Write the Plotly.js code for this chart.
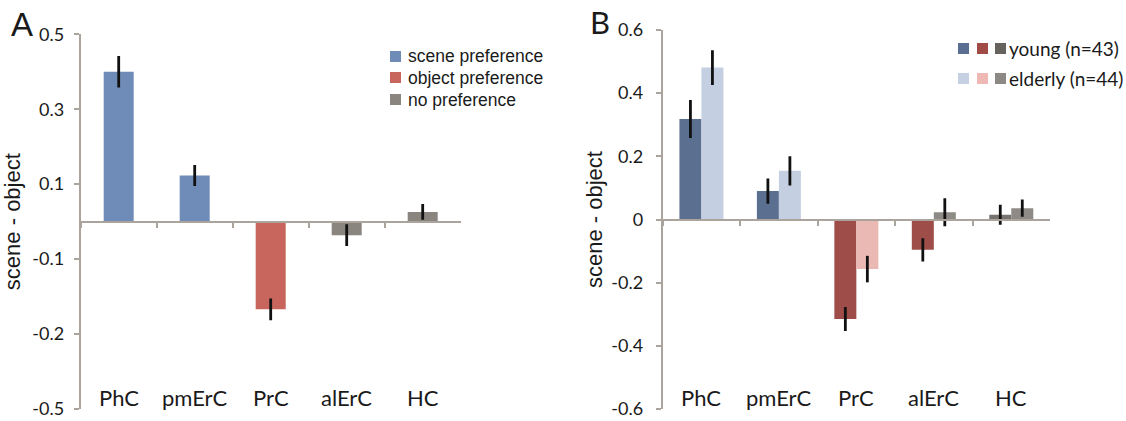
<!DOCTYPE html>
<html>
<head>
<meta charset="utf-8">
<script src="https://cdn.plot.ly/plotly-3.0.1.min.js"></script>
<style>html,body{margin:0;padding:0;background:#fff;} #chart{width:1126px;height:421px;}</style>
</head>
<body>
<div id="chart"></div>
<script>
// ---------- data ----------
const categories = ['PhC', 'pmErC', 'PrC', 'alErC', 'HC'];

// Panel A
const aValues = [0.400, 0.123, -0.234, -0.036, 0.026];
const aErrors = [0.042, 0.028, 0.029, 0.029, 0.021];
const aPreference = ['scene', 'scene', 'object', 'none', 'none'];
const aTickVals = [0.5, 0.3, 0.1, -0.1, -0.3, -0.5];
const aTickText = ['0.5', '0.3', '0.1', '-0.1', '-0.2', '-0.5'];
const aLegendLabels = ['scene preference', 'object preference', 'no preference'];

// Panel B
const youngValues = [0.318, 0.090, -0.315, -0.096, 0.015];
const youngErrors = [0.060, 0.040, 0.038, 0.037, 0.032];
const elderlyValues = [0.481, 0.154, -0.157, 0.023, 0.036];
const elderlyErrors = [0.055, 0.046, 0.042, 0.044, 0.027];
const bTickVals = [0.6, 0.4, 0.2, 0, -0.2, -0.4, -0.6];
const bTickText = ['0.6', '0.4', '0.2', '0', '-0.2', '-0.4', '-0.6'];
const bLegendLabels = ['young (n=43)', 'elderly (n=44)'];

// ---------- styles ----------
const W = 1126, H = 421;
const px = x => x / W;
const py = y => 1 - y / H;

const aColorMap = {scene: '#6F8CB9', object: '#C8655C', none: '#8B8580'};
const youngColors = ['#5B6F91', '#5B6F91', '#9E4D48', '#9E4D48', '#78736E'];
const elderlyColors = ['#C4CFE1', '#C4CFE1', '#EBB9B4', '#8E8A85', '#8E8A85'];
const youngLegendColors = ['#5A6E91', '#A04B46', '#66625E'];
const elderlyLegendColors = ['#C5D1E3', '#EEB9B4', '#8C8884'];

const axisColor = '#ABA49D';
const textColor = '#1A1A1A';
const tickFont = {family: 'Lato, sans-serif', size: 18, color: textColor};
const catFont = {family: 'Lato, sans-serif', size: 22, color: textColor};
const titleFont = {family: 'Liberation Sans, Arial, sans-serif', size: 22, color: textColor};

const aDomX = [px(80.7), px(460.7)], aDomY = [py(409), py(34.3)];
const bDomX = [px(662.7), px(1050)], bDomY = [py(409), py(30)];

const errStyle = {type: 'data', visible: true, color: '#111', thickness: 2.8, width: 0};

const traces = [
  {
    type: 'bar', name: 'panel A', x: categories, y: aValues,
    xaxis: 'x', yaxis: 'y',
    width: 0.395, offset: -0.1975,
    marker: {color: aPreference.map(p => aColorMap[p]), line: {width: 0}},
    error_y: Object.assign({array: aErrors}, errStyle),
    showlegend: false, hoverinfo: 'skip'
  },
  {
    type: 'bar', name: 'young', x: categories, y: youngValues,
    xaxis: 'x2', yaxis: 'y2',
    width: 0.284, offset: -0.284,
    marker: {color: youngColors, line: {width: 0}},
    error_y: Object.assign({array: youngErrors}, errStyle),
    showlegend: false, hoverinfo: 'skip'
  },
  {
    type: 'bar', name: 'elderly', x: categories, y: elderlyValues,
    xaxis: 'x2', yaxis: 'y2',
    width: 0.284, offset: 0,
    marker: {color: elderlyColors, line: {width: 0}},
    error_y: Object.assign({array: elderlyErrors}, errStyle),
    showlegend: false, hoverinfo: 'skip'
  }
];

function zeroAxis(dx, dy) {
  return {
    domain: dx, type: 'category', categoryarray: categories, categoryorder: 'array',
    range: [-0.5, 4.5], anchor: 'free', position: (dy[0] + dy[1]) / 2,
    showline: true, linecolor: axisColor, linewidth: 2,
    ticks: 'outside', tickson: 'boundaries', ticklen: 5, tickwidth: 2, tickcolor: axisColor,
    showticklabels: false, showgrid: false, zeroline: false, fixedrange: true
  };
}
function valueAxis(anchor, dy, range, vals, text, standoff, titleStandoff) {
  return {
    domain: dy, anchor: anchor, range: range,
    tickmode: 'array', tickvals: vals, ticktext: text,
    ticks: 'outside', ticklen: 5, tickwidth: 2, tickcolor: axisColor,
    showline: true, linecolor: axisColor, linewidth: 2,
    showgrid: false, zeroline: false, tickfont: tickFont,
    ticklabelstandoff: standoff,
    title: {text: 'scene - object', font: titleFont, standoff: titleStandoff},
    fixedrange: true
  };
}

const annotations = [];
function addSquare(x, y, color) {
  annotations.push({
    xref: 'paper', yref: 'paper', x: px(x), y: py(y), xanchor: 'left', yanchor: 'middle',
    text: '\u00a0', width: 11, height: 11, bgcolor: color, borderpad: 0, borderwidth: 0,
    showarrow: false, font: {size: 8}
  });
}
function addText(x, y, text, font) {
  annotations.push({
    xref: 'paper', yref: 'paper', x: px(x), y: py(y), xanchor: 'left', yanchor: 'middle',
    text: text, showarrow: false, font: font, borderpad: 0
  });
}

// Category labels placed through each panel's x scale
['x', 'x2'].forEach(ax => {
  categories.forEach(c => {
    annotations.push({
      xref: ax, yref: 'paper', x: c, y: py(397), xanchor: 'center', yanchor: 'middle',
      text: c, showarrow: false, font: catFont, borderpad: 0
    });
  });
});

// Panel letters
addText(10, 25, 'A', {family: 'Liberation Sans, Arial, sans-serif', size: 33, color: textColor});
addText(589, 22, 'B', {family: 'Lato, sans-serif', size: 31, color: textColor});

// Legend A
const aLegendY = [56.2, 77.9, 99.6];
const aLegendColors = [aColorMap.scene, aColorMap.object, aColorMap.none];
aLegendLabels.forEach((lab, i) => {
  addSquare(390, aLegendY[i], aLegendColors[i]);
  addText(407, aLegendY[i], lab, {family: 'Liberation Sans, Arial, sans-serif', size: 17.5, color: textColor});
});

// Legend B
const bLegendY = [48.7, 78.3];
const bSquareX = [958.3, 976.7, 995];
[youngLegendColors, elderlyLegendColors].forEach((cols, r) => {
  cols.forEach((c, k) => addSquare(bSquareX[k], bLegendY[r], c));
  addText(1008, bLegendY[r], bLegendLabels[r], {family: 'Lato, sans-serif', size: 19, color: textColor});
});

const layout = {
  width: W, height: H,
  margin: {l: 0, r: 0, t: 0, b: 0, pad: 0},
  paper_bgcolor: '#fff', plot_bgcolor: 'rgba(0,0,0,0)',
  showlegend: false,
  xaxis: zeroAxis(aDomX, aDomY),
  xaxis2: zeroAxis(bDomX, bDomY),
  yaxis: valueAxis('x', aDomY, [-0.5, 0.5], aTickVals, aTickText, 6, 14),
  yaxis2: valueAxis('x2', bDomY, [-0.6, 0.6], bTickVals, bTickText, 9, 3),
  annotations: annotations
};

Plotly.newPlot('chart', traces, layout, {staticPlot: true, displayModeBar: false});
</script>
</body>
</html>
